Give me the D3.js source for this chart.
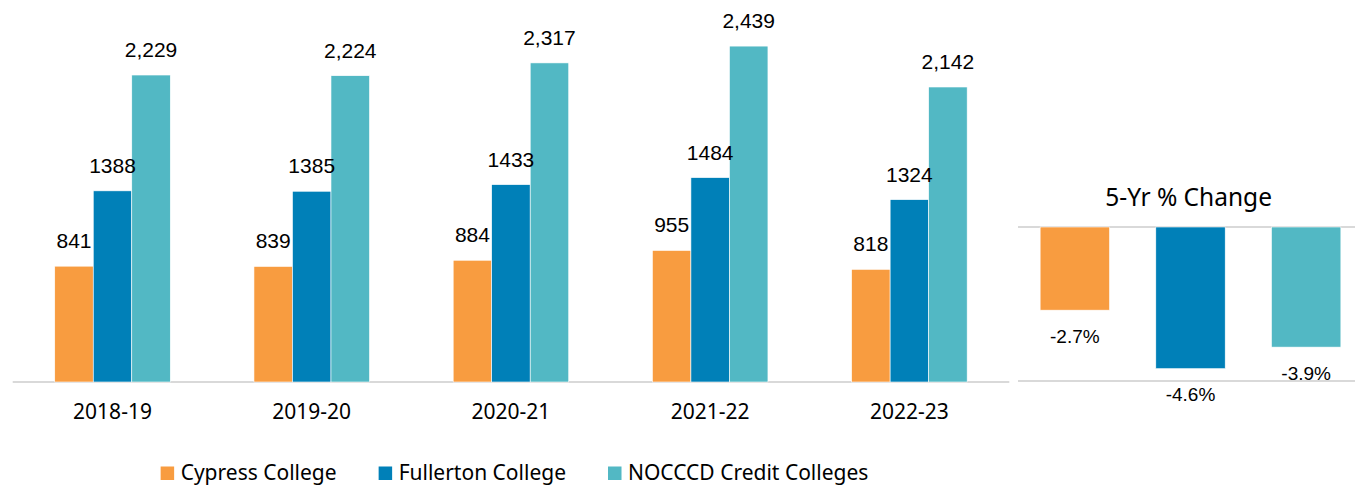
<!DOCTYPE html>
<html><head><meta charset="utf-8">
<script src="https://cdn.jsdelivr.net/npm/d3@7"></script>
<style>html,body{margin:0;padding:0;background:#fff;}svg{display:block;}</style>
</head><body>
<svg id="c" width="1355" height="489"></svg>
<script>
const years = ["2018-19","2019-20","2020-21","2021-22","2022-23"];
const seriesNames = ["Cypress College","Fullerton College","NOCCCD Credit Colleges"];
const cypress = [841,839,884,955,818];
const fullerton = [1388,1385,1433,1484,1324];
const nocccd = [2229,2224,2317,2439,2142];
const changeTitle = "5-Yr % Change";
const changeValues = [-2.7,-4.6,-3.9];
const colors = ["#F89C40","#0080B8","#52B8C4"];

const seriesValues = [cypress, fullerton, nocccd];
const svg = d3.select("#c");
const numFont = "'Liberation Sans', Arial, sans-serif";
const txtFont = "'Noto Sans', sans-serif";

// Left grouped chart
const x0 = d3.scaleBand().domain(years).range([12.9, 1009]).paddingInner(0.42).paddingOuter(0.21);
const x1 = d3.scaleBand().domain(seriesNames).range([0, x0.bandwidth()]);
const y = d3.scaleLinear().domain([0, 2500]).range([382, 37.7]);

svg.append("line").attr("x1", 12.7).attr("x2", 1009.3).attr("y1", 382).attr("y2", 382)
  .attr("stroke", "#d9d9d9").attr("stroke-width", 2);

const barLayer = svg.append("g");
const labLayer = svg.append("g");

years.forEach((yr, i) => {
  seriesNames.forEach((s, k) => {
    const v = seriesValues[k][i];
    const bx = x0(yr) + x1(s);
    barLayer.append("rect").attr("x", bx).attr("width", x1.bandwidth())
      .attr("y", y(v)).attr("height", y(0) - y(v)).attr("fill", colors[k])
      .attr("stroke", "#fff").attr("stroke-width", 0.6);
    const lab = k === 2 ? d3.format(",")(v) : String(v);
    labLayer.append("text").attr("x", bx + x1.bandwidth()/2).attr("y", y(v) - 18)
      .attr("text-anchor","middle").attr("font-family", numFont).attr("font-size", 21)
      .attr("fill","#000").text(lab);
  });
});

svg.selectAll("text.xl").data(years).join("text").attr("class","xl")
  .attr("x", d => x0(d) + x0.bandwidth()/2).attr("y", 419)
  .attr("text-anchor","middle").attr("font-family", txtFont).attr("font-size", 21)
  .attr("fill","#000").text(d => d);

// Legend
const leg = svg.append("g");
let lx = 0;
seriesNames.forEach((s, k) => {
  const gi = leg.append("g").attr("transform", `translate(${lx},0)`);
  gi.append("rect").attr("x",0).attr("y",-13.5).attr("width",13.5).attr("height",13.5).attr("fill",colors[k]);
  const t = gi.append("text").attr("x",20).attr("y",0).attr("font-family",txtFont).attr("font-size",21)
    .attr("fill","#000").text(s);
  const w = t.node().getComputedTextLength();
  lx += 20 + w + 42;
});
const legW = lx - 42;
leg.attr("transform", `translate(${514.5 - legW/2},480)`);

// Right chart
const xr = d3.scaleBand().domain(seriesNames).range([1017, 1364]).paddingInner(0.4).paddingOuter(0.2);
const yr = d3.scaleLinear().domain([-5, 0]).range([381, 227]);

svg.append("text").attr("x", 1188.7).attr("y", 206).attr("text-anchor","middle")
  .attr("font-family", txtFont).attr("font-size", 24.5).attr("fill","#000").text(changeTitle);

[0, -5].forEach(v => {
  svg.append("line").attr("x1", 1018).attr("x2", 1355).attr("y1", yr(v)).attr("y2", yr(v))
    .attr("stroke","#d9d9d9").attr("stroke-width", 2);
});

seriesNames.forEach((s, k) => {
  const v = changeValues[k];
  svg.append("rect").attr("x", xr(s)).attr("width", xr.bandwidth())
    .attr("y", yr(0)).attr("height", yr(v) - yr(0)).attr("fill", colors[k])
    .attr("stroke", "#fff").attr("stroke-width", 0.6);
  svg.append("text").attr("x", xr(s) + xr.bandwidth()/2).attr("y", yr(v) + 32.5)
    .attr("text-anchor","middle").attr("font-family", numFont).attr("font-size", 19)
    .attr("fill","#000").text(d3.format(".1f")(v).replace("\u2212","-") + "%");
});
</script>
</body></html>
